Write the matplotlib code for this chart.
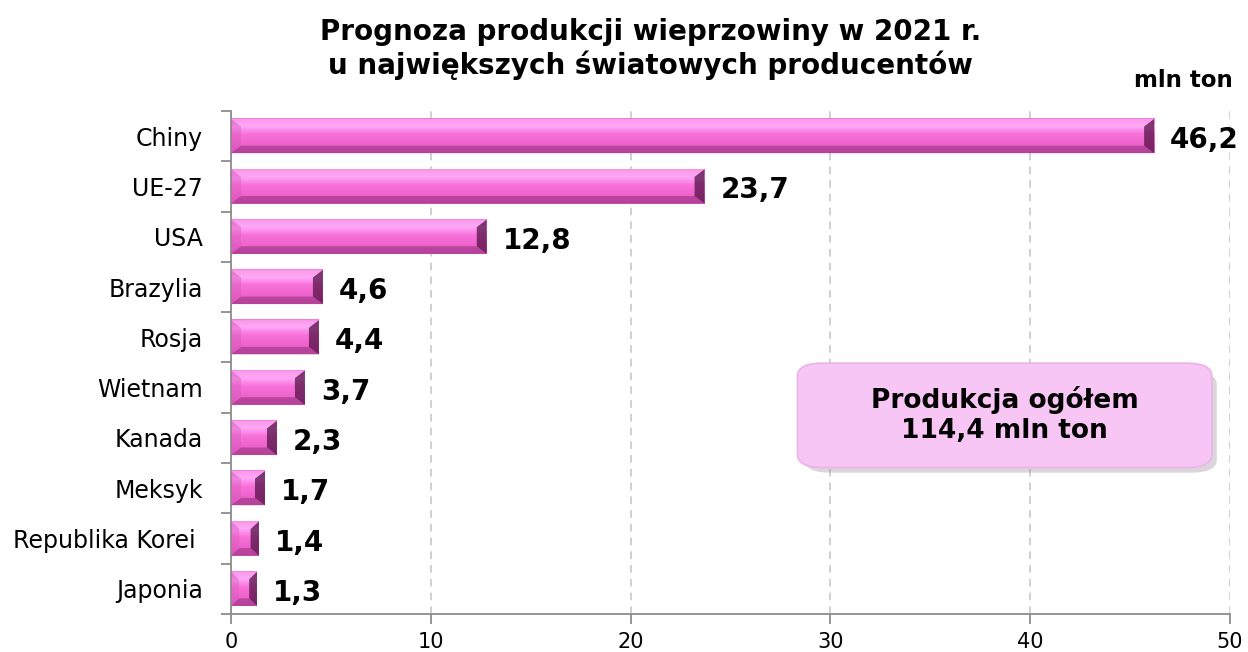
import matplotlib.pyplot as plt
import numpy as np
from matplotlib.colors import LinearSegmentedColormap
from matplotlib.patches import FancyBboxPatch, Polygon

countries = ["Chiny", "UE-27", "USA", "Brazylia", "Rosja", "Wietnam",
             "Kanada", "Meksyk", "Republika Korei ", "Japonia"]
production = [46.2, 23.7, 12.8, 4.6, 4.4, 3.7, 2.3, 1.7, 1.4, 1.3]
value_labels = ["46,2", "23,7", "12,8", "4,6", "4,4", "3,7", "2,3", "1,7", "1,4", "1,3"]
x_ticks = [0, 10, 20, 30, 40, 50]

TITLE = "Prognoza produkcji wieprzowiny w 2021 r.\nu największych światowych producentów"
UNIT = "mln ton"
TOTAL_TEXT = "Produkcja ogółem\n114,4 mln ton"

AXIS_GREY = "#8c8c8c"
GRID_GREY = "#c4c4c4"

plt.rcParams["font.family"] = ["DejaVu Sans"]

fig = plt.figure(figsize=(12.48, 6.52), dpi=100)
ax = fig.add_axes([0.1851, 0.0583, 0.8005, 0.7715])

n = len(countries)
ypos = np.arange(n)
bar_h = 0.68

# vertical gradient for the bevelled bars
bar_cmap = LinearSegmentedColormap.from_list(
    "bar", [(0.0, "#f47cdc"), (0.25, "#ffa2f6"), (0.45, "#f872da"),
            (0.75, "#ee62cc"), (1.0, "#e058c0")])
grad = np.linspace(0, 1, 64).reshape(-1, 1)

for y, v, lab in zip(ypos, production, value_labels):
    top, bot = y - bar_h / 2, y + bar_h / 2
    ax.imshow(grad, cmap=bar_cmap, aspect="auto", interpolation="bilinear",
              extent=[0, v, bot, top], zorder=2)
    dx = min(0.5, v * 0.3)
    dy = 0.15
    # bevel frame: top light, bottom dark, left soft, right deep
    ax.add_patch(Polygon([[0, top], [v, top], [v - dx, top + dy], [dx, top + dy]],
                         facecolor="#ffb8fa", alpha=0.45, lw=0, zorder=3))
    ax.add_patch(Polygon([[0, bot], [v, bot], [v - dx, bot - dy], [dx, bot - dy]],
                         facecolor="#8c2c74", alpha=0.5, lw=0, zorder=3))
    ax.add_patch(Polygon([[0, top], [dx, top + dy], [dx, bot - dy], [0, bot]],
                         facecolor="#d458b8", alpha=0.4, lw=0, zorder=3))
    ax.add_patch(Polygon([[v, top], [v - dx, top + dy], [v - dx, bot - dy], [v, bot]],
                         facecolor="#4a0c3c", alpha=0.7, lw=0, zorder=3))
    ax.text(v + 0.8, y + 0.08, lab, fontsize=20, fontweight="bold",
            ha="left", va="center", color="black", zorder=4)

ax.set_xlim(0, 50)
ax.set_ylim(n - 0.5, -0.5)
ax.set_xticks(x_ticks)
ax.set_xticklabels([str(t) for t in x_ticks], fontsize=15)
ax.set_yticks(ypos)
ax.set_yticklabels(countries, fontsize=17)
ax.set_yticks(np.arange(-0.5, n, 1), minor=True)
ax.tick_params(axis="y", which="major", length=0, pad=20)
ax.tick_params(axis="y", which="minor", length=7, color=AXIS_GREY, width=1.3)
ax.tick_params(axis="x", which="major", length=7, color=AXIS_GREY, width=1.3, pad=6)

ax.grid(axis="x", color=GRID_GREY, linestyle=(0, (5, 4)), linewidth=1.1, zorder=0)
ax.set_axisbelow(True)
for side in ("top", "right"):
    ax.spines[side].set_visible(False)
for side in ("left", "bottom"):
    ax.spines[side].set_color(AXIS_GREY)
    ax.spines[side].set_linewidth(1.3)

fig.text(0.521, 0.972, TITLE, ha="center", va="top", fontsize=20,
         fontweight="bold", linespacing=1.2)
fig.text(0.988, 0.877, UNIT, ha="right", va="center", fontsize=16.5, fontweight="bold")

# total box with shadow
shadow = FancyBboxPatch((0.645, 0.275), 0.33, 0.155, boxstyle="round,pad=0,rounding_size=0.02",
                        transform=fig.transFigure, facecolor="#a898a8", alpha=0.4,
                        lw=0, zorder=5)
fig.patches.append(shadow)
box = FancyBboxPatch((0.639, 0.283), 0.332, 0.160, boxstyle="round,pad=0,rounding_size=0.02",
                     transform=fig.transFigure, facecolor="#f8c6f4", edgecolor="#eab4e6",
                     lw=1.2, zorder=6)
fig.patches.append(box)
fig.text(0.805, 0.363, TOTAL_TEXT, ha="center", va="center", fontsize=19,
         fontweight="bold", linespacing=1.2, zorder=7)

fig.savefig("out.png", dpi=100)
